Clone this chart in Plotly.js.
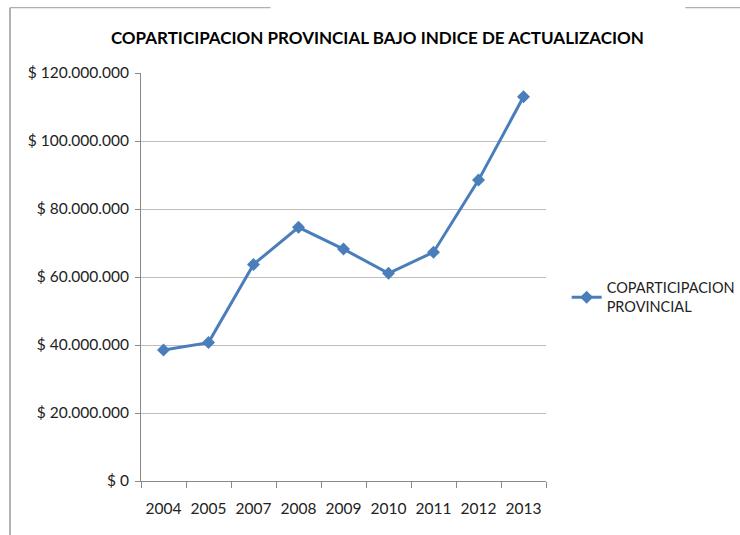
<!DOCTYPE html>
<html>
<head>
<meta charset="utf-8">
<script src="https://cdn.plot.ly/plotly-3.0.1.min.js"></script>
<style>html,body{margin:0;padding:0;background:#fff;}#chart{width:740px;height:535px;}</style>
</head>
<body>
<div id="chart"></div>
<script>
const years = ['2004','2005','2007','2008','2009','2010','2011','2012','2013'];
const coparticipacion = [38500000, 40700000, 63700000, 74600000, 68200000, 61100000, 67300000, 88500000, 113000000];
const yTicks = [0, 20000000, 40000000, 60000000, 80000000, 100000000, 120000000];
const seriesName = 'COPARTICIPACION<br>PROVINCIAL';
const chartTitle = 'COPARTICIPACION PROVINCIAL BAJO INDICE DE ACTUALIZACION';

function fmtPeso(v) {
  return '$ ' + String(v).replace(/\B(?=(\d{3})+(?!\d))/g, '.');
}
const yTickText = yTicks.map(fmtPeso);

const font = 'Lato, "Liberation Sans", Arial, sans-serif';

const trace = {
  x: years, y: coparticipacion, type: 'scatter', mode: 'lines+markers',
  name: seriesName,
  line: {color: '#4a7ebb', width: 3},
  marker: {symbol: 'diamond', size: 10, color: '#4a7ebb'}
};

const layout = {
  width: 740, height: 535,
  margin: {l: 141, r: 194, t: 73, b: 54, autoexpand: false},
  paper_bgcolor: '#fff', plot_bgcolor: '#fff',
  font: {family: font, size: 15, color: '#222'},
  title: {text: '<b>' + chartTitle + '</b>', x: 0.51, xanchor: 'center', y: 0.929, yanchor: 'middle',
          font: {family: font, size: 17, color: '#000'}},
  xaxis: {
    type: 'category', range: [-0.5, 8.5], tickson: 'boundaries', ticks: 'outside', ticklen: 6, tickcolor: '#888',
    showline: true, linecolor: '#888', linewidth: 1, showgrid: false,
    ticklabelstandoff: 13, tickfont: {family: font, size: 15.5, color: '#222'}
  },
  yaxis: {
    range: [0, 120000000], tickmode: 'array', tickvals: yTicks, ticktext: yTickText,
    ticks: 'outside', ticklen: 5, tickcolor: '#888',
    showline: true, linecolor: '#888', linewidth: 1,
    showgrid: true, gridcolor: '#bdbdbd', gridwidth: 1, zeroline: false,
    ticklabelstandoff: 3, tickfont: {family: font, size: 15.5, color: '#222'}
  },
  showlegend: true,
  legend: {x: 1.051, xanchor: 'left', y: 0.45, yanchor: 'middle', bgcolor: 'rgba(0,0,0,0)',
           font: {family: font, size: 14.5, color: '#222'}, itemwidth: 30, tracegroupgap: 0},
  shapes: [
    {type: 'line', xref: 'paper', yref: 'paper', x0: -0.3235, x1: -0.3235, y0: -0.135, y1: 1.16, line: {color: '#999', width: 1.5}},
    {type: 'line', xref: 'paper', yref: 'paper', x0: -0.3235, x1: 0.32, y0: 1.16, y1: 1.16, line: {color: '#999', width: 1}},
    {type: 'line', xref: 'paper', yref: 'paper', x0: 1.344, x1: 1.48, y0: 1.16, y1: 1.16, line: {color: '#999', width: 1}}
  ]
};

Plotly.newPlot('chart', [trace], layout, {displayModeBar: false, staticPlot: true});
</script>
</body>
</html>
